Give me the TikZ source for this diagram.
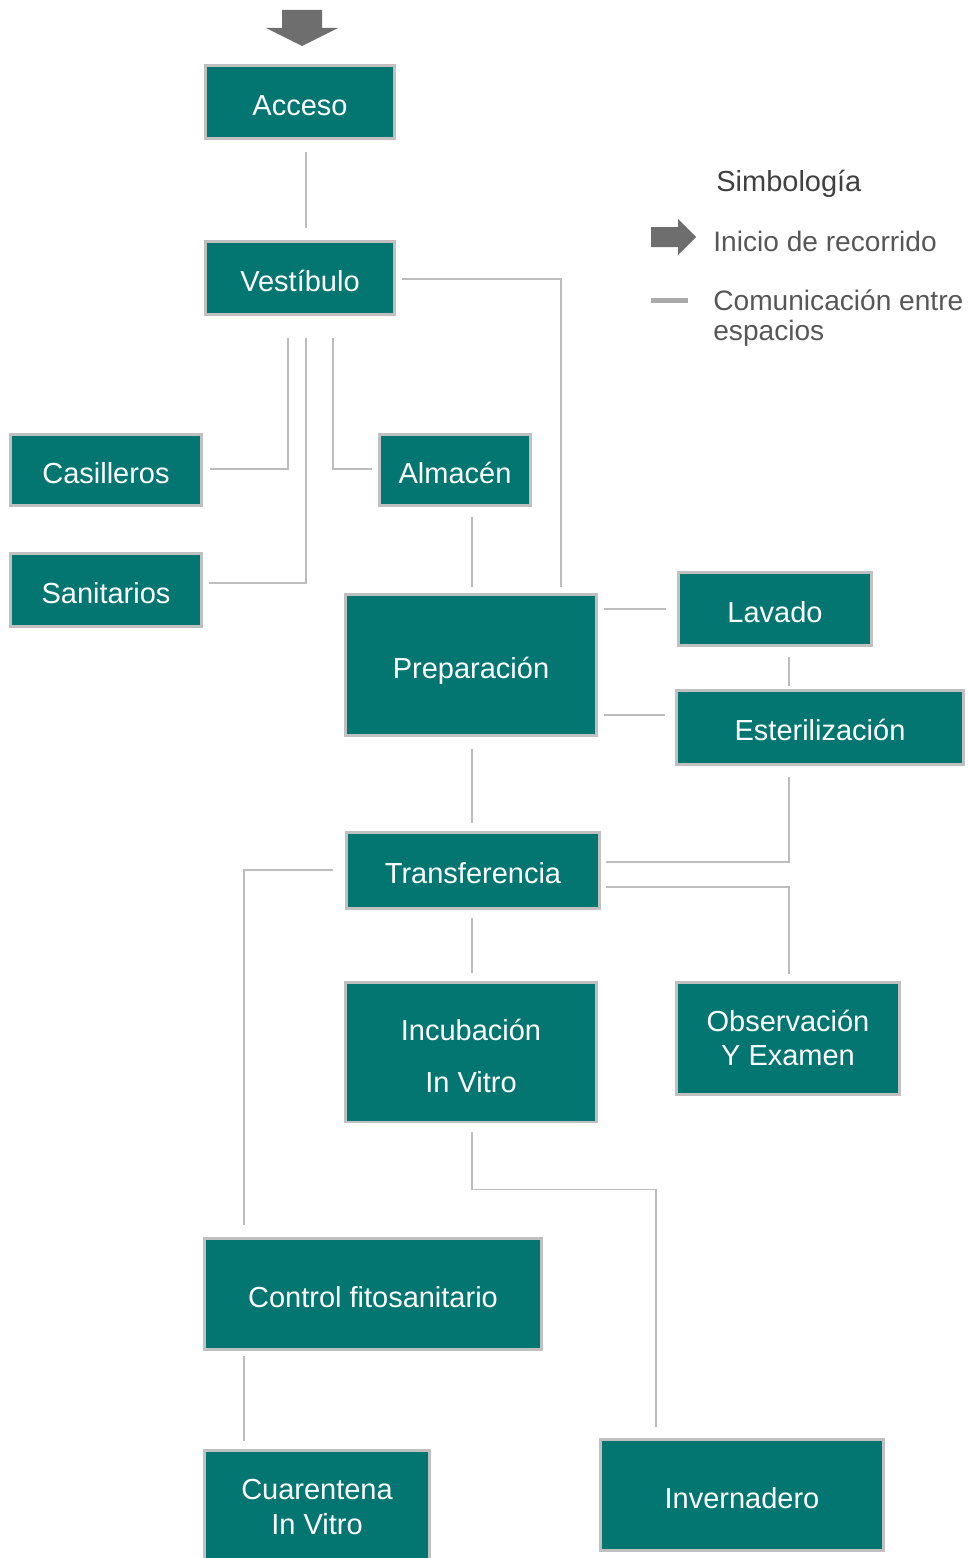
\documentclass[tikz,border=0pt]{standalone}
\usepackage{fontspec}
\setmainfont{Liberation Sans}
\usetikzlibrary{calc}
\definecolor{teal1}{HTML}{037671}
\definecolor{boxrim}{HTML}{C0C0C0}
\definecolor{linkgray}{HTML}{BDBDBD}
\definecolor{legendgray}{HTML}{575757}
\definecolor{arrowgray}{HTML}{6E6E6E}
\tikzset{
    room/.style={draw=boxrim, line width=0.06cm, fill=teal1, text=white, inner sep=0pt,
        align=center, font=\fontsize{16.5}{19.8}\selectfont},
    oneline/.style={text height=15pt, text depth=0pt},
    link/.style={draw=linkgray, line width=0.03cm},
    legendtext/.style={text=legendgray, inner sep=0pt, anchor=west, align=left,
        font=\fontsize{16}{17}\selectfont}
}
\begin{document}
\begin{tikzpicture}[x=0.02cm, y=-0.02cm]
        \useasboundingbox (0,0) rectangle (967,1558);

        \node[room, oneline, minimum width=3.80cm, minimum height=1.46cm] (acceso) at (300,102) {Acceso};
        \node[room, oneline, minimum width=3.80cm, minimum height=1.46cm] (vestibulo) at (300,278) {Vestíbulo};
        \node[room, oneline, minimum width=3.82cm, minimum height=1.44cm] (casilleros) at (106,470) {Casilleros};
        \node[room, oneline, minimum width=3.04cm, minimum height=1.44cm] (almacen) at (455,470) {Almacén};
        \node[room, oneline, minimum width=3.84cm, minimum height=1.46cm] (sanitarios) at (106,590) {Sanitarios};
        \node[room, oneline, minimum width=5.04cm, minimum height=2.84cm] (preparacion) at (471,665) {Preparación};
        \node[room, oneline, minimum width=3.88cm, minimum height=1.46cm] (lavado) at (775,609) {Lavado};
        \node[room, oneline, minimum width=5.74cm, minimum height=1.48cm] (esterilizacion) at (820,727) {Esterilización};
        \node[room, oneline, minimum width=5.06cm, minimum height=1.52cm] (transferencia) at (473,870) {Transferencia};
        \node[room, text height=46pt, text depth=0pt, minimum width=5.04cm, minimum height=2.80cm] (incubacion) at (471,1052) {Incubación\\[0.34cm]In Vitro};
        \node[room, minimum width=4.48cm, minimum height=2.24cm] (observacion) at (788,1038) {Observación\\Y Examen};
        \node[room, oneline, minimum width=6.74cm, minimum height=2.22cm] (control) at (373,1294) {Control fitosanitario};
        \node[room, minimum width=4.50cm, minimum height=2.26cm] (cuarentena) at (317,1507) {Cuarentena\\In Vitro};
        \node[room, oneline, minimum width=5.66cm, minimum height=2.22cm] (invernadero) at (742,1495) {Invernadero};

        \draw[link] ($(acceso.south)+(6,12)$) -- ($(vestibulo.north)+(6,-12)$);
        \draw[link] ($(vestibulo.east)+(6,1)$) -| ($(preparacion.north)+(90,-6)$);
        \draw[link] ($(vestibulo.south)+(-12,22)$) |- ($(casilleros.east)+(7,-1)$);
        \draw[link] ($(vestibulo.south)+(6,22)$) |- ($(sanitarios.east)+(6,-7)$);
        \draw[link] ($(vestibulo.south)+(33,22)$) |- ($(almacen.west)+(-6,-1)$);
        \draw[link] ($(almacen.south)+(17,10)$) -- ($(preparacion.north)+(1,-6)$);
        \draw[link] ($(preparacion.east |- lavado.west)+(6,0)$) -- ($(lavado.west)+(-11,0)$);
        \draw[link] ($(preparacion.east)+(6,50)$) -- ($(esterilizacion.west)+(-10,-12)$);
        \draw[link] ($(lavado.south)+(14,10)$) -- ($(esterilizacion.north)+(-31,-3)$);
        \draw[link] ($(preparacion.south)+(1,12)$) -- ($(transferencia.north)+(-1,-8)$);
        \draw[link] ($(esterilizacion.south)+(-31,11)$) |- ($(transferencia.east)+(5,-8)$);
        \draw[link] ($(transferencia.east)+(5,17)$) -| ($(observacion.north)+(1,-7)$);
        \draw[link] ($(transferencia.south)+(-1,8)$) -- ($(incubacion.north)+(1,-8)$);
        \draw[link] ($(transferencia.west)+(-12,0)$) -| ($(control.north)+(-129,-12)$);
        \draw[link] ($(incubacion.south)+(1,9)$) -- ++(0,57) -| ($(invernadero.north)+(-86,-11)$);
        \draw[link] ($(control.south)+(-129,5)$) -- ($(cuarentena.north)+(-73,-8)$);

        \fill[arrowgray] (282,10) -- (322,10) -- (322,28) -- (338,28) -- (302,46) -- (266,28) -- (282,28) -- cycle;

        \node[legendtext, text=black!75, font=\fontsize{16.5}{18}\selectfont] (simbologia) at (716,184) {Simbología};
        \fill[arrowgray] (651,227) -- (678,227) -- (678,219) -- (696,237) -- (678,255) -- (678,247) -- (651,247) -- cycle;
        \node[legendtext] (inicio) at (713,241) {Inicio de recorrido};
        \draw[draw=linkgray!90!black, line width=0.1cm] (651,300) -- (688,300);
        \node[legendtext] (comunicacion) at (713,318) {Comunicación entre\\espacios};
\end{tikzpicture}
\end{document}
